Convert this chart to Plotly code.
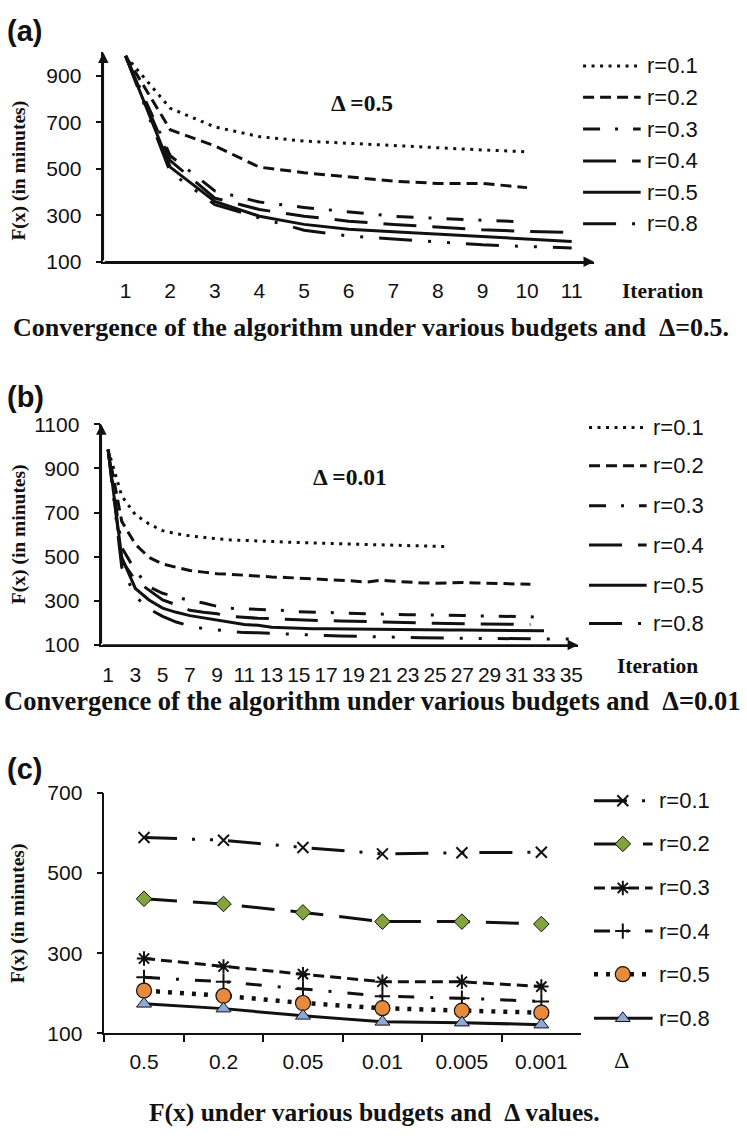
import plotly.graph_objects as go

W, H = 747, 1141

# ---------------- data ----------------
series_names = ["r=0.1", "r=0.2", "r=0.3", "r=0.4", "r=0.5", "r=0.8"]

# panel (a): Delta = 0.5
iter_a = list(range(1, 12))
a_r01 = [985, 760, 680, 638, 619, 609, 598, 588, 581, 573]
a_r02 = [985, 668, 598, 507, 483, 465, 447, 437, 437, 419]
a_r03 = [985, 556, 405, 357, 334, 315, 296, 287, 278, 271]
a_r04 = [985, 535, 374, 325, 296, 275, 261, 250, 238, 231, 226]
a_r05 = [985, 507, 360, 296, 261, 240, 229, 219, 208, 200, 188]
a_r08 = [985, 486, 346, 289, 236, 211, 198, 184, 173, 166, 160]
a_ticks_y = [100, 300, 500, 700, 900]

# panel (b): Delta = 0.01
iter_b = list(range(1, 36))
b_r01 = [985, 775, 690, 648, 618, 604, 594, 586, 581, 576, 573, 570, 568, 566,
         564, 562, 560, 558, 556, 555, 553, 552, 550, 549, 547, 546]
b_r02 = [985, 660, 556, 497, 467, 452, 437, 430, 423, 420, 415, 411, 408, 406,
         403, 400, 399, 396, 390, 385, 393, 389, 384, 381, 380, 382, 383, 381,
         380, 379, 378, 375]
b_r03 = [985, 541, 437, 363, 334, 316, 301, 290, 275, 266, 264, 262, 260, 256,
         251, 249, 245, 245, 242, 240, 238, 238, 237, 237, 236, 236, 234, 232,
         232, 231, 229, 228, 223]
b_r04 = [985, 482, 393, 349, 304, 282, 257, 248, 241, 230, 224, 221, 219, 216,
         214, 212, 210, 209, 207, 206, 204, 204, 201, 200, 198, 197, 196, 196,
         195, 194, 193, 193]
b_r05 = [985, 497, 356, 304, 267, 248, 233, 223, 213, 204, 193, 189, 180, 178,
         175, 174, 174, 173, 172, 171, 171, 170, 170, 169, 169, 168, 168, 167,
         167, 166, 166, 165, 164]
b_r08 = [985, 452, 320, 263, 230, 204, 186, 174, 168, 161, 156, 155, 152, 149,
         147, 145, 143, 141, 139, 138, 137, 136, 134, 133, 131, 131, 130, 130,
         129, 129, 128, 128, 127, 127, 127]
b_ticks_x = list(range(1, 36, 2))
b_ticks_y = [100, 300, 500, 700, 900, 1100]

# panel (c): F(x) vs Delta
deltas = ["0.5", "0.2", "0.05", "0.01", "0.005", "0.001"]
c_r01 = [589, 582, 564, 548, 551, 552]
c_r02 = [436, 423, 402, 379, 379, 373]
c_r03 = [287, 267, 248, 229, 229, 217]
c_r04 = [240, 229, 211, 193, 188, 180]
c_r05 = [207, 194, 176, 163, 157, 152]
c_r08 = [174, 162, 144, 129, 127, 122]
c_ticks_y = [100, 300, 500, 700]

# ---------------- styles ----------------
SANS = "Liberation Sans, Arial, sans-serif"
SERIF = "Liberation Serif, Times New Roman, serif"
INK = "#111111"

dash_ab = ["3px,5.5px", "11px,6px", "17px,15px,3px,15px", "33px,16px",
           "solid", "33px,16px,3px,16px,3px,16px"]
dash_c = ["33px,15px,3px,15px,3px,15px", "33px,16px", "11px,6px",
          "16px,16px,3px,16px", "4px,8px", "solid"]
width_c = [3, 3, 3, 3, 4.5, 3]
marker_c = [
    dict(symbol="x-thin-open", size=11, color=INK, line=dict(color=INK, width=2)),
    dict(symbol="diamond", size=12, color="#82a43c", line=dict(color=INK, width=1)),
    dict(symbol="asterisk-open", size=12, color=INK, line=dict(color=INK, width=2)),
    dict(symbol="cross-thin-open", size=11, color=INK, line=dict(color=INK, width=2)),
    dict(symbol="circle", size=15, color="#e88a3c", line=dict(color=INK, width=1.2)),
    dict(symbol="triangle-up", size=13, color="#8fa9d6", line=dict(color=INK, width=1)),
]


def fx(p):
    return p / W


def fy(p):
    return 1 - p / H


fig = go.Figure()

a_series = [a_r01, a_r02, a_r03, a_r04, a_r05, a_r08]
b_series = [b_r01, b_r02, b_r03, b_r04, b_r05, b_r08]
c_series = [c_r01, c_r02, c_r03, c_r04, c_r05, c_r08]

for vals, dash in zip(a_series, dash_ab):
    fig.add_trace(go.Scatter(x=iter_a[:len(vals)], y=vals, mode="lines",
                             line=dict(color=INK, width=3, dash=dash),
                             xaxis="x", yaxis="y", showlegend=False, hoverinfo="skip"))
for vals, dash in zip(b_series, dash_ab):
    fig.add_trace(go.Scatter(x=iter_b[:len(vals)], y=vals, mode="lines",
                             line=dict(color=INK, width=3, dash=dash),
                             xaxis="x2", yaxis="y2", showlegend=False, hoverinfo="skip"))
for vals, dash, wd, mk in zip(c_series, dash_c, width_c, marker_c):
    fig.add_trace(go.Scatter(x=deltas, y=vals, mode="lines+markers",
                             line=dict(color=INK, width=wd, dash=dash), marker=mk,
                             xaxis="x3", yaxis="y3", showlegend=False, hoverinfo="skip"))

# ---------------- legends (drawn on a hidden pixel overlay) ----------------
leg_a_y = [55, 87, 119.5, 152, 184, 216]
leg_b_y = [424, 463, 504, 544, 585, 624]
leg_c_y = [805, 849, 894, 938, 982, 1027]
leg_a_x = (587, 645)
leg_b_x = (593, 651)
leg_c_x = (598, 657)
LEGFONT = dict(family=SANS, size=22, color=INK)
annotations = []

for yy, dash, name in zip(leg_a_y, dash_ab, series_names):
    fig.add_trace(go.Scatter(x=list(leg_a_x), y=[yy, yy], mode="lines",
                             line=dict(color=INK, width=3, dash=dash),
                             xaxis="x4", yaxis="y4", showlegend=False, hoverinfo="skip"))
    annotations.append(dict(x=fx(leg_a_x[1] + 4), y=fy(yy), xref="paper", yref="paper",
                            text=name, showarrow=False, xanchor="left", yanchor="middle",
                            font=LEGFONT))
for yy, dash, name in zip(leg_b_y, dash_ab, series_names):
    fig.add_trace(go.Scatter(x=list(leg_b_x), y=[yy, yy], mode="lines",
                             line=dict(color=INK, width=3, dash=dash),
                             xaxis="x4", yaxis="y4", showlegend=False, hoverinfo="skip"))
    annotations.append(dict(x=fx(leg_b_x[1] + 4), y=fy(yy), xref="paper", yref="paper",
                            text=name, showarrow=False, xanchor="left", yanchor="middle",
                            font=LEGFONT))
for yy, dash, wd, mk, name in zip(leg_c_y, dash_c, width_c, marker_c, series_names):
    fig.add_trace(go.Scatter(x=list(leg_c_x), y=[yy, yy], mode="lines",
                             line=dict(color=INK, width=wd, dash=dash),
                             xaxis="x4", yaxis="y4", showlegend=False, hoverinfo="skip"))
    fig.add_trace(go.Scatter(x=[627], y=[yy], mode="markers", marker=mk,
                             xaxis="x4", yaxis="y4", showlegend=False, hoverinfo="skip"))
    annotations.append(dict(x=fx(leg_c_x[1] + 4), y=fy(yy), xref="paper", yref="paper",
                            text=name, showarrow=False, xanchor="left", yanchor="middle",
                            font=LEGFONT))

# ---------------- axes ----------------
tickfont = dict(family=SANS, size=21, color=INK)
base_x = dict(showline=True, linecolor=INK, linewidth=1.5, showgrid=False, zeroline=False,
              tickfont=tickfont, tickangle=0, fixedrange=True)
base_y = dict(showline=True, linecolor=INK, linewidth=1.5, showgrid=False, zeroline=False,
              tickfont=tickfont, ticks="outside", ticklen=6, tickwidth=1.5, tickcolor=INK,
              ticklabelstandoff=10, fixedrange=True)

a_xr, a_yr = [0.5, 11.5], [100, 1000]
b_xr, b_yr = [0.5, 35.5], [100, 1100]
c_xr, c_yr = [-0.5, 5.5], [100, 700]

fig.update_layout(
    xaxis=dict(base_x, domain=[fx(104), fx(598)], range=a_xr, tickmode="array",
               tickvals=iter_a, ticks="", ticklabelstandoff=9, anchor="y"),
    yaxis=dict(base_y, domain=[fy(255), fy(41.25)], range=a_yr, tickmode="array",
               tickvals=a_ticks_y, anchor="x"),
    xaxis2=dict(base_x, domain=[fx(102), fx(582)], range=b_xr, tickmode="array",
                tickvals=b_ticks_x, ticks="", ticklabelstandoff=10, anchor="y2"),
    yaxis2=dict(base_y, domain=[fy(646), fy(420.7)], range=b_yr, tickmode="array",
                tickvals=b_ticks_y, anchor="x2"),
    xaxis3=dict(base_x, domain=[fx(105), fx(585)], range=c_xr, type="category",
                categoryorder="array", categoryarray=deltas, ticks="outside",
                tickson="boundaries", ticklen=7, tickwidth=1.5, tickcolor=INK,
                ticklabelstandoff=9, anchor="y3"),
    yaxis3=dict(base_y, domain=[fy(1042.5), fy(797)], range=c_yr, tickmode="array",
                tickvals=c_ticks_y, anchor="x3"),
    xaxis4=dict(domain=[0, 1], range=[0, W], visible=False, fixedrange=True, anchor="y4"),
    yaxis4=dict(domain=[0, 1], range=[H, 0], visible=False, fixedrange=True, anchor="x4"),
)

# axis arrows
arrow = dict(showarrow=True, text="", arrowhead=2, arrowsize=1.4, arrowwidth=1.5,
             arrowcolor=INK, standoff=0, startstandoff=0)
for xa, ya, xr, yr in [("x", "y", a_xr, a_yr), ("x2", "y2", b_xr, b_yr)]:
    annotations.append(dict(arrow, x=xr[0], y=yr[1], ax=xr[0], ay=yr[0],
                            xref=xa, yref=ya, axref=xa, ayref=ya))
    annotations.append(dict(arrow, x=xr[1], y=yr[0], ax=xr[0], ay=yr[0],
                            xref=xa, yref=ya, axref=xa, ayref=ya))
annotations.append(dict(arrow, x=fx(105), y=fy(797), ax=fx(105), ay=fy(1042.5),
                        xref="paper", yref="paper", axref="pixel", ayref="pixel"))
annotations.append(dict(arrow, x=fx(585), y=fy(1042.5), ax=fx(105), ay=fy(1042.5),
                        xref="paper", yref="paper", axref="pixel", ayref="pixel"))


# ---------------- texts ----------------
def txt(x, y, s, family, size, anchor="center", angle=0):
    annotations.append(dict(x=fx(x), y=fy(y), xref="paper", yref="paper", text=s,
                            showarrow=False, xanchor=anchor, yanchor="middle",
                            textangle=angle, font=dict(family=family, size=size, color=INK)))


txt(5, 19, "<b>(a)</b>", SANS, 29, anchor="left")
txt(5, 393, "<b>(b)</b>", SANS, 29, anchor="left")
txt(5, 773, "<b>(c)</b>", SANS, 29, anchor="left")

txt(19, 162, "<b>F(x) (in minutes)</b>", SERIF, 19.5, angle=-90)
txt(19, 533, "<b>F(x) (in minutes)</b>", SERIF, 19.5, angle=-90)
txt(19, 920, "<b>F(x) (in minutes)</b>", SERIF, 19.5, angle=-90)

txt(364, 93, "<b>\u0394 =0.5</b>", SERIF, 23.5)
txt(352, 475, "<b>\u0394 =0.01</b>", SERIF, 23.5)

txt(667, 285, "<b>Iteration</b>", SERIF, 21.5)
txt(662, 667, "<b>Iteration</b>", SERIF, 21.5)
txt(626, 1070, "\u0394", SERIF, 24)

txt(373, 322, "<b>Convergence of the algorithm under various budgets and \u00a0\u0394=0.5.</b>", SERIF, 26)
txt(375, 703, "<b>Convergence of the algorithm under various budgets and \u00a0\u0394=0.01</b>", SERIF, 26.5)
txt(377, 1123, "<b>F(x) under various budgets and \u00a0\u0394 values.</b>", SERIF, 25.5)

fig.update_layout(
    width=W, height=H, autosize=False,
    margin=dict(l=0, r=0, t=0, b=0),
    paper_bgcolor="white", plot_bgcolor="rgba(0,0,0,0)",
    showlegend=False,
    annotations=annotations,
)

fig.write_html("out.html", config={"displayModeBar": False})
